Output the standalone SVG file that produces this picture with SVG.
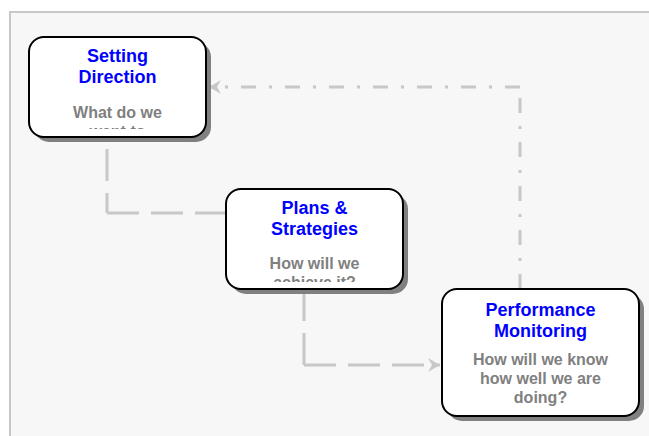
<svg xmlns="http://www.w3.org/2000/svg" width="649" height="436" viewBox="0 0 649 436">
<style>
.shadow{fill:#808080}
.box{fill:#ffffff;stroke:#000000;stroke-width:2}
.title{font-family:"Liberation Sans",Arial,sans-serif;font-weight:bold;font-size:18px;fill:#0000ff;text-anchor:middle}
.sub{font-family:"Liberation Sans",Arial,sans-serif;font-weight:bold;font-size:16px;fill:#808080;text-anchor:middle}
.conn{fill:none;stroke:#c8c8c8;stroke-width:3}
.dash{stroke-dasharray:32 12}
.dashdot{stroke-dasharray:15 13 3 13}
</style>
<defs>
<marker id="arrow" viewBox="0 0 12 14" refX="12" refY="7" markerWidth="12" markerHeight="14" orient="auto" markerUnits="userSpaceOnUse">
<path d="M0,0 L12,7 L0,14 L4,7 Z" fill="#c8c8c8"/>
</marker>
<clipPath id="clip1"><rect x="29" y="37" width="177" height="92"/></clipPath>
<clipPath id="clip2"><rect x="226" y="189" width="177" height="93"/></clipPath>
<clipPath id="clip3"><rect x="442" y="289" width="197" height="120"/></clipPath>
</defs>
<rect x="10" y="12" width="700" height="500" fill="#f7f7f7" stroke="#c8c8c8" stroke-width="2"/>
<g id="connectors">
<path class="conn dash" d="M107,213 L107,137" stroke-dashoffset="12"/>
<path class="conn dash" d="M107,213 L227,213"/>
<path class="conn dash" d="M304,365 L304,289"/>
<path class="conn dash" d="M304,365 L440,365" marker-end="url(#arrow)"/>
<path class="conn dashdot" d="M520,87 L520,289" stroke-dashoffset="33"/>
<path class="conn dashdot" d="M520,87 L209,87" marker-end="url(#arrow)"/>
</g>
<g id="setting-direction">
<rect class="shadow" x="34" y="42" width="177" height="100" rx="15"/>
<rect class="box" x="29" y="37" width="177" height="100" rx="15"/>
<text class="title" x="117.5" y="62">Setting</text>
<text class="title" x="117.5" y="83">Direction</text>
<g clip-path="url(#clip1)">
<text class="sub" x="117.5" y="118">What do we</text>
<text class="sub" x="117.5" y="137">want to</text>
</g>
</g>
<g id="plans-strategies">
<rect class="shadow" x="231" y="194" width="177" height="100" rx="15"/>
<rect class="box" x="226" y="189" width="177" height="100" rx="15"/>
<text class="title" x="314.5" y="214">Plans &amp;</text>
<text class="title" x="314.5" y="235">Strategies</text>
<g clip-path="url(#clip2)">
<text class="sub" x="314.5" y="269">How will we</text>
<text class="sub" x="314.5" y="288">achieve it?</text>
</g>
</g>
<g id="performance-monitoring">
<rect class="shadow" x="447" y="294" width="197" height="127" rx="15"/>
<rect class="box" x="442" y="289" width="197" height="127" rx="15"/>
<text class="title" x="540.5" y="316">Performance</text>
<text class="title" x="540.5" y="337">Monitoring</text>
<g clip-path="url(#clip3)">
<text class="sub" x="540.5" y="365">How will we know</text>
<text class="sub" x="540.5" y="384">how well we are</text>
<text class="sub" x="540.5" y="403">doing?</text>
</g>
</g>
</svg>
